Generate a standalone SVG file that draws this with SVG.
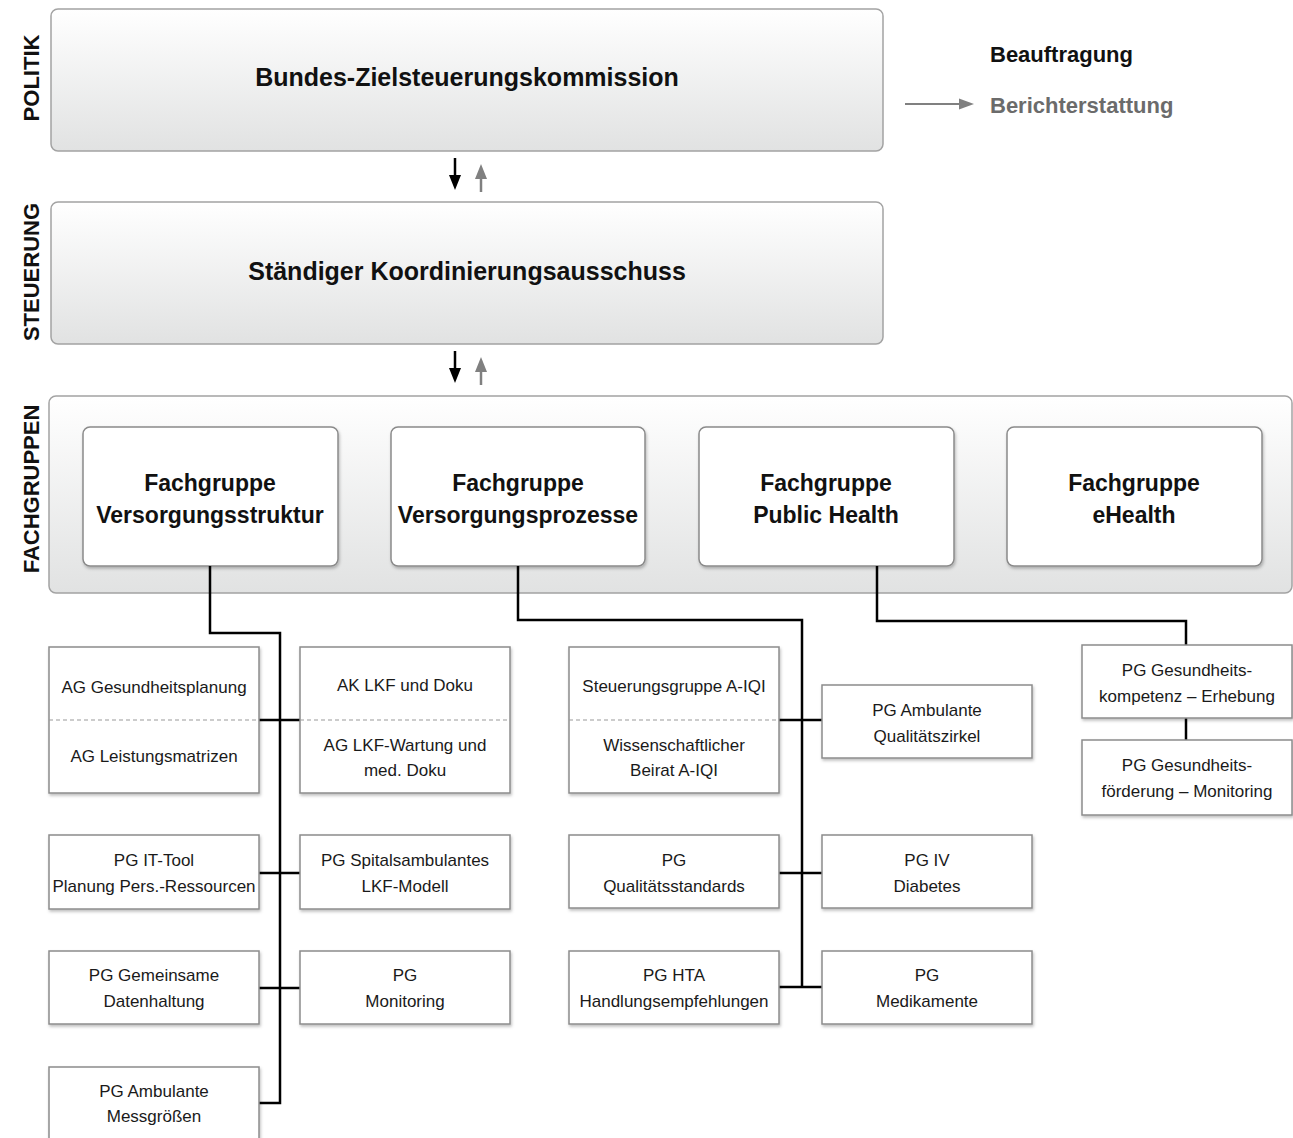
<svg xmlns="http://www.w3.org/2000/svg" width="1293" height="1138" viewBox="0 0 1293 1138">
<style>
.big{font-family:"Liberation Sans",Arial,sans-serif;font-weight:bold;font-size:25px;fill:#111;text-anchor:middle}
.fg{font-family:"Liberation Sans",Arial,sans-serif;font-weight:bold;font-size:23px;fill:#111;text-anchor:middle}
.side{font-family:"Liberation Sans",Arial,sans-serif;font-weight:bold;font-size:22px;fill:#111;text-anchor:middle}
.t{font-family:"Liberation Sans",Arial,sans-serif;font-size:17px;fill:#1a1a1a;text-anchor:middle}
.lg{font-family:"Liberation Sans",Arial,sans-serif;font-weight:bold;font-size:22px}
.band{fill:url(#gband);stroke:#a3a3a3;stroke-width:1.5}
.fgbox{fill:#fff;stroke:#8a8a8a;stroke-width:1.5;filter:url(#sh)}
.node{fill:#fff;stroke:#8c8c8c;stroke-width:1.5;filter:url(#sh)}
.dash{stroke:#999;stroke-width:1.2;stroke-dasharray:4 3}
.conn{fill:none;stroke:#000;stroke-width:2.5}
</style>
<defs>
<linearGradient id="gband" x1="0" y1="0" x2="0" y2="1">
<stop offset="0" stop-color="#ffffff"/>
<stop offset="1" stop-color="#e1e2e2"/>
</linearGradient>
<filter id="sh" x="-10%" y="-10%" width="125%" height="130%">
<feDropShadow dx="1" dy="2" stdDeviation="1.5" flood-color="#000" flood-opacity="0.25"/>
</filter>
</defs>

<!-- side labels -->
<text class="side" transform="translate(39,78) rotate(-90)">POLITIK</text>
<text class="side" transform="translate(39,272) rotate(-90)">STEUERUNG</text>
<text class="side" transform="translate(39,489) rotate(-90)">FACHGRUPPEN</text>

<!-- legend -->
<g id="legend">
<text class="lg" x="990" y="62" fill="#111">Beauftragung</text>
<line x1="905" y1="104" x2="962" y2="104" stroke="#808080" stroke-width="2"/>
<polygon points="959,98.5 974,104 959,109.5" fill="#808080"/>
<text class="lg" x="990" y="113" fill="#6b6b6b">Berichterstattung</text>
</g>

<g id="n-bzk">
<rect class="band" x="51" y="9" width="832" height="142" rx="7"/>
<text class="big" x="467" y="86">Bundes-Zielsteuerungskommission</text>
</g>
<g id="n-ska">
<rect class="band" x="51" y="202" width="832" height="142" rx="7"/>
<text class="big" x="467" y="280">Ständiger Koordinierungsausschuss</text>
</g>
<g id="n-fachgruppen">
<rect class="band" x="49" y="396" width="1243" height="197" rx="7"/>
</g>
<g id="n-fg1">
<rect class="fgbox" x="83" y="427" width="255" height="139" rx="7"/>
<text class="fg" x="210" y="491">Fachgruppe</text>
<text class="fg" x="210" y="523">Versorgungsstruktur</text>
</g>
<g id="n-fg2">
<rect class="fgbox" x="391" y="427" width="254" height="139" rx="7"/>
<text class="fg" x="518" y="491">Fachgruppe</text>
<text class="fg" x="518" y="523">Versorgungsprozesse</text>
</g>
<g id="n-fg3">
<rect class="fgbox" x="699" y="427" width="255" height="139" rx="7"/>
<text class="fg" x="826" y="491">Fachgruppe</text>
<text class="fg" x="826" y="523">Public Health</text>
</g>
<g id="n-fg4">
<rect class="fgbox" x="1007" y="427" width="255" height="139" rx="7"/>
<text class="fg" x="1134" y="491">Fachgruppe</text>
<text class="fg" x="1134" y="523">eHealth</text>
</g>

<!-- connectors -->
<g id="connectors">
<line x1="455" y1="158" x2="455" y2="178" stroke="#000" stroke-width="2.5"/>
<polygon points="449,175 461,175 455,190" fill="#000"/>
<line x1="481" y1="192" x2="481" y2="176" stroke="#808080" stroke-width="2.5"/>
<polygon points="475,179 487,179 481,164" fill="#808080"/>
<line x1="455" y1="351" x2="455" y2="371" stroke="#000" stroke-width="2.5"/>
<polygon points="449,368 461,368 455,383" fill="#000"/>
<line x1="481" y1="385" x2="481" y2="369" stroke="#808080" stroke-width="2.5"/>
<polygon points="475,372 487,372 481,357" fill="#808080"/>

<polyline class="conn" points="210,566 210,633 280,633 280,1103 259,1103"/>
<line class="conn" x1="259" y1="720" x2="300" y2="720"/>
<line class="conn" x1="259" y1="873" x2="300" y2="873"/>
<line class="conn" x1="259" y1="988" x2="300" y2="988"/>

<polyline class="conn" points="518,566 518,620 802,620 802,987"/>
<line class="conn" x1="779" y1="720" x2="822" y2="720"/>
<line class="conn" x1="779" y1="873" x2="822" y2="873"/>
<line class="conn" x1="779" y1="987" x2="822" y2="987"/>

<polyline class="conn" points="877,566 877,621 1186,621 1186,645"/>
<line class="conn" x1="1186" y1="718" x2="1186" y2="740"/>
</g>

<!-- left column -->
<g id="n-ag-gp">
<rect class="node" x="49" y="647" width="210" height="146"/>
<line class="dash" x1="49" y1="720" x2="259" y2="720"/>
<text class="t" x="154" y="693">AG Gesundheitsplanung</text>
<text class="t" x="154" y="762">AG Leistungsmatrizen</text>
</g>
<g id="n-ak-lkf">
<rect class="node" x="300" y="647" width="210" height="146"/>
<line class="dash" x1="300" y1="720" x2="510" y2="720"/>
<text class="t" x="405" y="691">AK LKF und Doku</text>
<text class="t" x="405" y="751">AG LKF-Wartung und</text>
<text class="t" x="405" y="776">med. Doku</text>
</g>
<g id="n-pg-it">
<rect class="node" x="49" y="835" width="210" height="74"/>
<text class="t" x="154" y="866">PG IT-Tool</text>
<text class="t" x="154" y="892">Planung Pers.-Ressourcen</text>
</g>
<g id="n-pg-spital">
<rect class="node" x="300" y="835" width="210" height="74"/>
<text class="t" x="405" y="866">PG Spitalsambulantes</text>
<text class="t" x="405" y="892">LKF-Modell</text>
</g>
<g id="n-pg-daten">
<rect class="node" x="49" y="951" width="210" height="73"/>
<text class="t" x="154" y="981">PG Gemeinsame</text>
<text class="t" x="154" y="1007">Datenhaltung</text>
</g>
<g id="n-pg-mon">
<rect class="node" x="300" y="951" width="210" height="73"/>
<text class="t" x="405" y="981">PG</text>
<text class="t" x="405" y="1007">Monitoring</text>
</g>
<g id="n-pg-mess">
<rect class="node" x="49" y="1067" width="210" height="85"/>
<text class="t" x="154" y="1097">PG Ambulante</text>
<text class="t" x="154" y="1122">Messgrößen</text>
</g>

<!-- middle column -->
<g id="n-aiqi">
<rect class="node" x="569" y="647" width="210" height="146"/>
<line class="dash" x1="569" y1="720" x2="779" y2="720"/>
<text class="t" x="674" y="692">Steuerungsgruppe A-IQI</text>
<text class="t" x="674" y="751">Wissenschaftlicher</text>
<text class="t" x="674" y="776">Beirat A-IQI</text>
</g>
<g id="n-pg-qz">
<rect class="node" x="822" y="685" width="210" height="73"/>
<text class="t" x="927" y="716">PG Ambulante</text>
<text class="t" x="927" y="742">Qualitätszirkel</text>
</g>
<g id="n-pg-qs">
<rect class="node" x="569" y="835" width="210" height="73"/>
<text class="t" x="674" y="866">PG</text>
<text class="t" x="674" y="892">Qualitätsstandards</text>
</g>
<g id="n-pg-iv">
<rect class="node" x="822" y="835" width="210" height="73"/>
<text class="t" x="927" y="866">PG IV</text>
<text class="t" x="927" y="892">Diabetes</text>
</g>
<g id="n-pg-hta">
<rect class="node" x="569" y="951" width="210" height="73"/>
<text class="t" x="674" y="981">PG HTA</text>
<text class="t" x="674" y="1007">Handlungsempfehlungen</text>
</g>
<g id="n-pg-med">
<rect class="node" x="822" y="951" width="210" height="73"/>
<text class="t" x="927" y="981">PG</text>
<text class="t" x="927" y="1007">Medikamente</text>
</g>

<!-- right column -->
<g id="n-pg-gk">
<rect class="node" x="1082" y="645" width="210" height="73"/>
<text class="t" x="1187" y="676">PG Gesundheits-</text>
<text class="t" x="1187" y="702">kompetenz – Erhebung</text>
</g>
<g id="n-pg-gf">
<rect class="node" x="1082" y="740" width="210" height="75"/>
<text class="t" x="1187" y="771">PG Gesundheits-</text>
<text class="t" x="1187" y="797">förderung – Monitoring</text>
</g>
</svg>
